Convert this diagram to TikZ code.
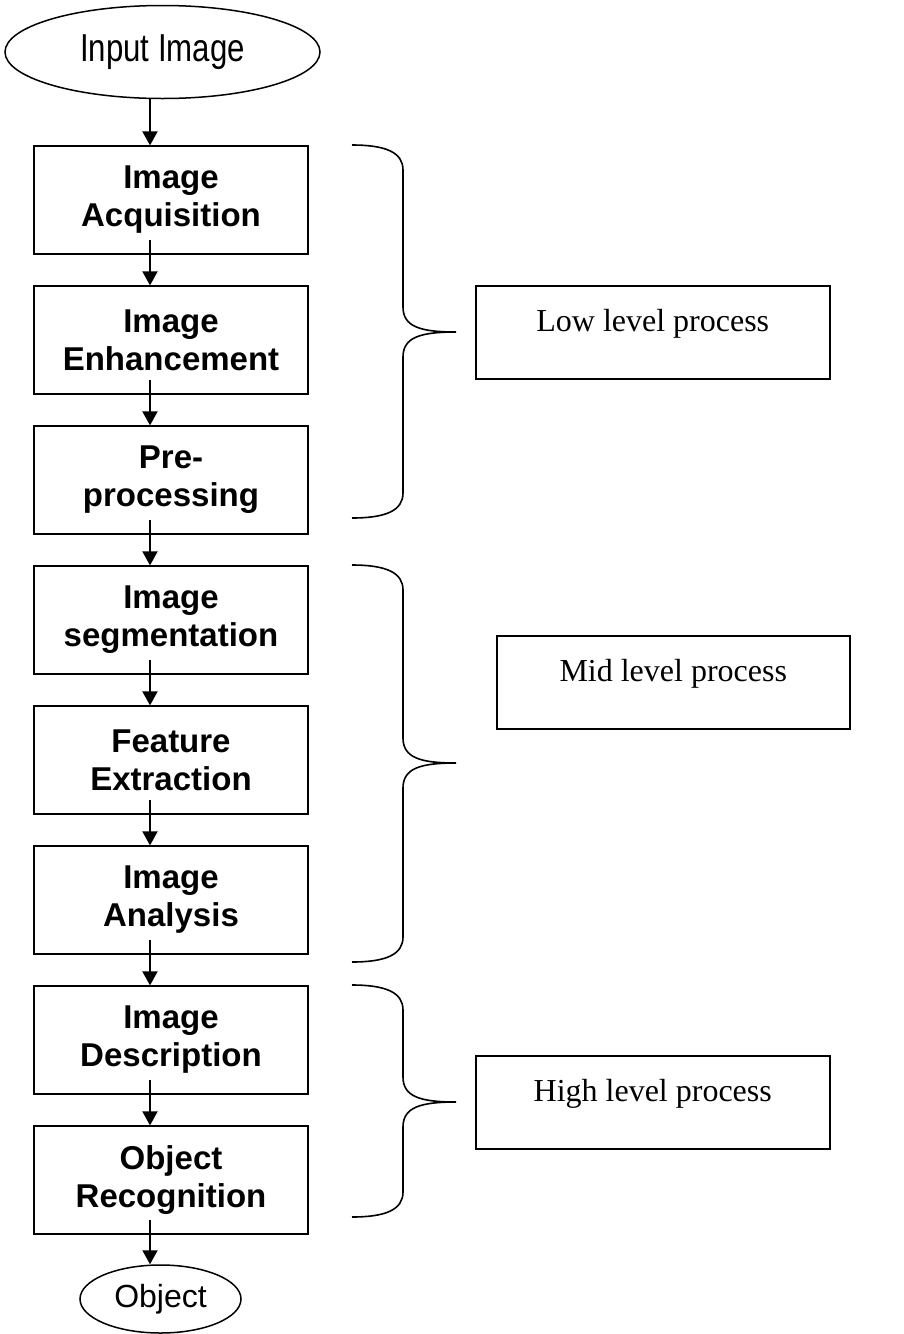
\documentclass[tikz,border=0pt]{standalone}
\usepackage{fontspec}
\newfontfamily\arialf{Liberation Sans}
\newfontfamily\narrowf[FakeStretch=0.8]{Liberation Sans}
\newfontfamily\timesf{Liberation Serif}
\usetikzlibrary{arrows.meta,shapes.geometric}
\tikzset{
  stepbox/.style={draw, line width=1.3pt, rectangle, minimum width=274pt, minimum height=108pt,
    inner sep=0pt, align=center, font=\arialf\bfseries\fontsize{33}{38}\selectfont},
  levelbox/.style={draw, line width=1.5pt, rectangle, anchor=north west, inner sep=0pt,
    text height=46pt, text depth=47pt, font=\timesf\fontsize{32}{36}\selectfont},
  term/.style={draw, ellipse, line width=1.5pt, inner sep=0pt},
  arr/.style={line width=2pt, -{Triangle[length=14pt,width=15pt]}},
  bracel/.style={line width=1.6pt}
}
\newcommand\levelbrace[3]{%
  \draw[bracel] (352,#1) .. controls (387,#1) and (403,{#1+8}) .. (403,{#1+25})
    -- (403,{#2-25}) .. controls (403,{#2-5}) and (421,#2) .. (456,#2)
    .. controls (421,#2) and (403,{#2+5}) .. (403,{#2+25})
    -- (403,{#3-25}) .. controls (403,{#3-8}) and (387,#3) .. (352,#3);}
\begin{document}
\begin{tikzpicture}[x=1pt,y=-1pt]
\useasboundingbox (0,0) rectangle (903,1334);
\coordinate (ax) at (150,0);
\node[term, minimum width=315pt, minimum height=93pt, font=\narrowf\fontsize{39}{44}\selectfont] (in) at (162.5,52) {Input Image};
\node[stepbox] (b1) at (171,200) {Image\\Acquisition};
\node[stepbox] (b2) at (171,340) {Image\\Enhancement};
\node[stepbox] (b3) at (171,480) {Pre-\\processing};
\node[stepbox] (b4) at (171,620) {Image\\segmentation};
\node[stepbox] (b5) at (171,760) {Feature\\Extraction};
\node[stepbox] (b6) at (171,900) {Image\\Analysis};
\node[stepbox] (b7) at (171,1040) {Image\\Description};
\node[stepbox] (b8) at (171,1180) {Object\\Recognition};
\node[term, minimum width=161pt, minimum height=68pt, font=\arialf\fontsize{32}{36}\selectfont] (out) at (160.5,1299) {Object};

\draw[arr] (in.south -| ax) -- (b1.north -| ax);
\draw[arr, shorten <=-15pt] (b1.south -| ax) -- (b2.north -| ax);
\draw[arr, shorten <=-15pt] (b2.south -| ax) -- (b3.north -| ax);
\draw[arr, shorten <=-15pt] (b3.south -| ax) -- (b4.north -| ax);
\draw[arr, shorten <=-15pt] (b4.south -| ax) -- (b5.north -| ax);
\draw[arr, shorten <=-15pt] (b5.south -| ax) -- (b6.north -| ax);
\draw[arr, shorten <=-15pt] (b6.south -| ax) -- (b7.north -| ax);
\draw[arr, shorten <=-15pt] (b7.south -| ax) -- (b8.north -| ax);
\draw[arr, shorten <=-15pt] (b8.south -| ax) -- (out.north -| ax);

\levelbrace{145}{332}{518}
\levelbrace{565}{763}{962}
\levelbrace{985}{1102}{1217}

\node[levelbox, minimum width=354pt] (low) at (475,285) {Low level process};
\node[levelbox, minimum width=353pt] (mid) at (496,635) {Mid level process};
\node[levelbox, minimum width=354pt] (high) at (475,1055) {High level process};
\end{tikzpicture}
\end{document}
